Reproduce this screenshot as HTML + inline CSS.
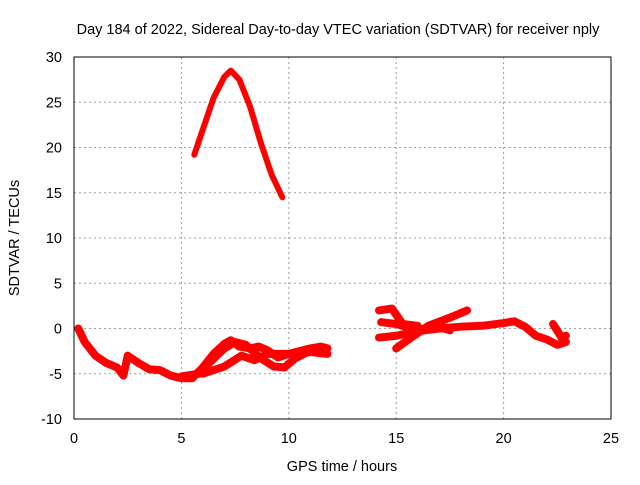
<!DOCTYPE html>
<html><head><meta charset="utf-8"><style>
body{margin:0;background:#fff}
svg text{font-family:"Liberation Sans",sans-serif;font-size:14.5px;fill:#000}
</style></head><body>
<svg id="c" width="640" height="480">
<text x="338" y="34" text-anchor="middle">Day 184 of 2022, Sidereal Day-to-day VTEC variation (SDTVAR) for receiver nply</text>
<text x="342" y="471" text-anchor="middle">GPS time / hours</text>
<text transform="translate(19,238) rotate(-90)" text-anchor="middle">SDTVAR / TECUs</text>
<g id="grid"></g><g id="ticks"></g><g id="marks"></g>
<rect x="74" y="57" width="537" height="362" fill="none" stroke="#000" stroke-width="1"/>
</svg>
<script>
const xTicks=[0,5,10,15,20,25];
const yTicks=[-10,-5,0,5,10,15,20,25,30];
const seriesPeak=[[5.6,19.2],[6,22],[6.5,25.5],[7,27.8],[7.3,28.5],[7.7,27.5],[8.2,24.5],[8.7,20.5],[9.2,17],[9.7,14.5]];
const seriesA=[[0.2,0],[0.5,-1.5],[1,-3],[1.5,-3.8],[2,-4.3],[2.3,-5.2],[2.5,-3],[3,-3.8],[3.5,-4.5],[4,-4.6],[4.5,-5.2],[5,-5.5],[5.5,-5.5],[6,-4.3],[6.5,-2.8],[7,-1.7],[7.3,-1.3],[7.7,-2],[8.2,-2.2],[8.6,-2],[9,-2.4],[9.5,-3.2],[10,-2.8],[10.5,-2.5],[11,-2.2],[11.5,-2],[11.8,-2.2]];
const seriesB=[[5,-5.3],[5.8,-5],[6.3,-3.8],[7,-2.2],[7.5,-1.5],[8,-1.8],[8.7,-3.3],[9.3,-4.2],[9.8,-4.3],[10.3,-3.3],[10.8,-2.7]];
const seriesC=[[6,-5],[7,-4.2],[7.8,-3],[8.4,-3.5],[9,-2.8],[10,-2.8],[11,-2.6],[11.8,-2.8]];
const seriesD=[[14.2,-1],[15,-0.8],[16,-0.3],[17,0],[18,0.2],[19,0.3],[20,0.6],[20.5,0.8],[21,0.2],[21.5,-0.8],[22,-1.2],[22.5,-1.8],[22.9,-1.5]];
const seriesE=[[14.2,2],[14.8,2.2],[15.3,0.5],[16,0.3]];
const seriesF=[[15,-2.2],[15.7,-1],[16.5,0.3],[17.5,1.2],[18.3,2]];
const seriesG=[[14.3,0.7],[15,0.5],[16,-0.2],[16.8,0.3],[17.5,-0.2]];
const seriesH=[[22.3,0.5],[22.7,-1],[22.9,-0.8]];
const X=v=>74+v*(537/25), Y=v=>419-(v+10)*(362/40);
const NS='http://www.w3.org/2000/svg';
const g=document.getElementById('grid'),t=document.getElementById('ticks'),m=document.getElementById('marks');
function mk(tag,at,p){const e=document.createElementNS(NS,tag);for(const k in at)e.setAttribute(k,at[k]);p.appendChild(e);return e;}
xTicks.forEach(v=>{
 if(v>0&&v<25){const l=mk('line',{x1:X(v),x2:X(v),y1:57,y2:419,stroke:'#a0a0a0','stroke-dasharray':'2,3'},g);
 
 }
 const s=mk('text',{x:X(v),y:443,'text-anchor':'middle'},t);s.textContent=v;
 
 
});
yTicks.forEach(v=>{
 if(v>-10&&v<30){const l=mk('line',{x1:74,x2:611,y1:Y(v),y2:Y(v),stroke:'#a0a0a0','stroke-dasharray':'2,3'},g);
 
 }
 const s=mk('text',{x:62,y:Y(v)+5,'text-anchor':'end'},t);s.textContent=v;
 
 
});
[seriesPeak,seriesA,seriesB,seriesC,seriesD,seriesE,seriesF,seriesG,seriesH].forEach((s,i)=>{
 const p=mk('polyline',{points:s.map(d=>X(d[0])+','+Y(d[1])).join(' '),fill:'none',stroke:'#f00','stroke-width':i==0?6:8,'stroke-linejoin':'round','stroke-linecap':'round'},m);
 
 
});
</script>
</body></html>
